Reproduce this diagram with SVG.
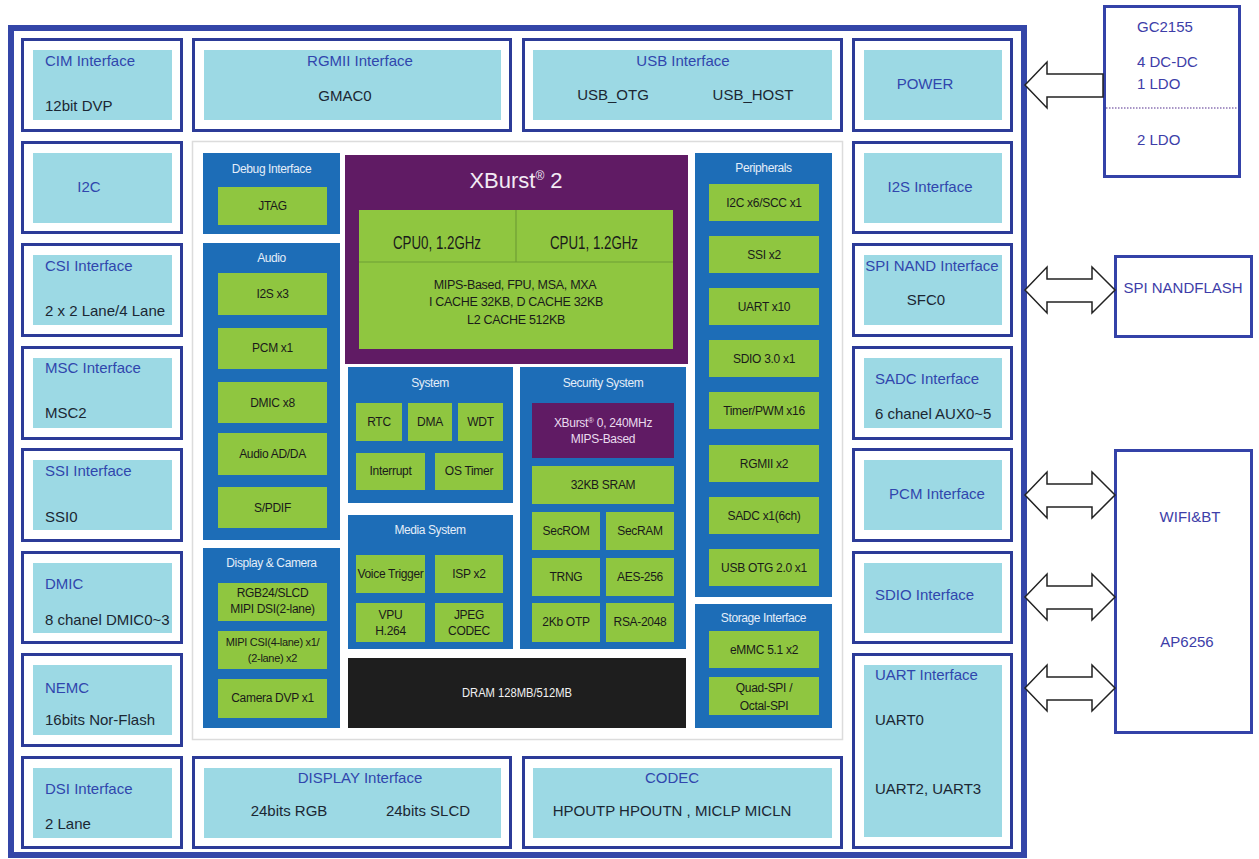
<svg xmlns="http://www.w3.org/2000/svg" width="1259" height="859" viewBox="0 0 1259 859">
<style>
.ob{fill:#fff;stroke:#2c3b98;stroke-width:3}
.ib{fill:#9cd9e4}
.ext{fill:#fff;stroke:#3442a8;stroke-width:3}
.t1{font-family:"Liberation Sans",Arial,sans-serif;font-size:15px;fill:#3046ad}
.t2{font-family:"Liberation Sans",Arial,sans-serif;font-size:15px;fill:#1b2733}
.tx{font-family:"Liberation Sans",Arial,sans-serif;font-size:15px;fill:#3d3da8}
.c{text-anchor:middle}
.blk{fill:#1d6db7}
.gr{fill:#8fc640}
.pu{fill:#601b64}
.ttl{font-family:"Liberation Sans",Arial,sans-serif;font-size:12px;fill:#e4eef9;letter-spacing:-0.4px;text-anchor:middle}
.gt{font-family:"Liberation Sans",Arial,sans-serif;font-size:12px;fill:#1a1a1a;letter-spacing:-0.3px;text-anchor:middle}
.arr{fill:#fff;stroke:#222;stroke-width:1.5;stroke-linejoin:miter}
</style>
<rect x="0" y="0" width="1259" height="859" fill="#fff"/>
<rect id="frame" x="11" y="28" width="1013" height="827" fill="#fff" stroke="#3446a8" stroke-width="6"/>
<rect id="core-panel" x="192.5" y="141.5" width="650" height="598" fill="#fff" stroke="#dcdcdc" stroke-width="1.5"/>

<!-- left column -->
<g id="cim"><rect class="ob" x="22.5" y="39.5" width="159" height="91"/><rect class="ib" x="33" y="50" width="139" height="70"/><text class="t1" x="45" y="66">CIM Interface</text><text class="t2" x="45" y="111">12bit DVP</text></g>
<g id="i2c"><rect class="ob" x="22.5" y="142.5" width="159" height="90"/><rect class="ib" x="33" y="153" width="139" height="70"/><text class="t1 c" x="89" y="192">I2C</text></g>
<g id="csi"><rect class="ob" x="22.5" y="244.5" width="159" height="91"/><rect class="ib" x="33" y="255" width="139" height="70"/><text class="t1" x="45" y="271">CSI Interface</text><text class="t2" x="45" y="316">2 x 2 Lane/4 Lane</text></g>
<g id="msc"><rect class="ob" x="22.5" y="347.5" width="159" height="91"/><rect class="ib" x="33" y="358" width="139" height="70"/><text class="t1" x="45" y="373">MSC Interface</text><text class="t2" x="45" y="418">MSC2</text></g>
<g id="ssi"><rect class="ob" x="22.5" y="449.5" width="159" height="91"/><rect class="ib" x="33" y="460" width="139" height="70"/><text class="t1" x="45" y="476">SSI Interface</text><text class="t2" x="45" y="522">SSI0</text></g>
<g id="dmic"><rect class="ob" x="22.5" y="552.5" width="159" height="90"/><rect class="ib" x="33" y="563" width="139" height="70"/><text class="t1" x="45" y="589">DMIC</text><text class="t2" x="45" y="625">8 chanel DMIC0~3</text></g>
<g id="nemc"><rect class="ob" x="22.5" y="654.5" width="159" height="91"/><rect class="ib" x="33" y="665" width="139" height="70"/><text class="t1" x="45" y="693">NEMC</text><text class="t2" x="45" y="725">16bits Nor-Flash</text></g>
<g id="dsi"><rect class="ob" x="22.5" y="757.5" width="159" height="90"/><rect class="ib" x="33" y="768" width="139" height="70"/><text class="t1" x="45" y="794">DSI Interface</text><text class="t2" x="45" y="829">2 Lane</text></g>

<!-- top row -->
<g id="rgmii"><rect class="ob" x="193.5" y="39.5" width="317" height="91"/><rect class="ib" x="204" y="50" width="297" height="70"/><text class="t1 c" x="360" y="66">RGMII Interface</text><text class="t2 c" x="345" y="101">GMAC0</text></g>
<g id="usb"><rect class="ob" x="523.5" y="39.5" width="318" height="91"/><rect class="ib" x="533" y="50" width="299" height="70"/><text class="t1 c" x="683" y="66">USB Interface</text><text class="t2 c" x="613" y="100">USB_OTG</text><text class="t2 c" x="753" y="100">USB_HOST</text></g>

<!-- bottom row -->
<g id="display"><rect class="ob" x="193.5" y="757.5" width="317" height="90"/><rect class="ib" x="204" y="768" width="297" height="70"/><text class="t1 c" x="360" y="783">DISPLAY Interface</text><text class="t2 c" x="289" y="816">24bits RGB</text><text class="t2 c" x="428" y="816">24bits SLCD</text></g>
<g id="codec"><rect class="ob" x="523.5" y="757.5" width="318" height="90"/><rect class="ib" x="533" y="768" width="299" height="70"/><text class="t1 c" x="672" y="783">CODEC</text><text class="t2 c" x="672" y="816">HPOUTP HPOUTN , MICLP MICLN</text></g>

<!-- right column -->
<g id="power"><rect class="ob" x="853.5" y="39.5" width="158" height="91"/><rect class="ib" x="864" y="50" width="138" height="70"/><text class="t1 c" x="925" y="89">POWER</text></g>
<g id="i2s"><rect class="ob" x="853.5" y="142.5" width="158" height="90"/><rect class="ib" x="864" y="153" width="138" height="70"/><text class="t1 c" x="930" y="192">I2S Interface</text></g>
<g id="spinand"><rect class="ob" x="853.5" y="244.5" width="158" height="91"/><rect class="ib" x="864" y="255" width="138" height="70"/><text class="t1 c" x="932" y="271">SPI NAND Interface</text><text class="t2 c" x="926" y="305">SFC0</text></g>
<g id="sadc"><rect class="ob" x="853.5" y="347.5" width="158" height="91"/><rect class="ib" x="864" y="358" width="138" height="70"/><text class="t1" x="875" y="384">SADC Interface</text><text class="t2" x="875" y="419">6 chanel AUX0~5</text></g>
<g id="pcm"><rect class="ob" x="853.5" y="449.5" width="158" height="91"/><rect class="ib" x="864" y="460" width="138" height="70"/><text class="t1 c" x="937" y="499">PCM Interface</text></g>
<g id="sdio"><rect class="ob" x="853.5" y="552.5" width="158" height="90"/><rect class="ib" x="864" y="563" width="138" height="70"/><text class="t1" x="875" y="600">SDIO Interface</text></g>
<g id="uart"><rect class="ob" x="853.5" y="654.5" width="158" height="193"/><rect class="ib" x="864" y="665" width="138" height="172"/><text class="t1" x="875" y="680">UART Interface</text><text class="t2" x="875" y="725">UART0</text><text class="t2" x="875" y="794">UART2, UART3</text></g>

<!-- external -->
<g id="gc2155"><rect class="ext" x="1104.5" y="6.5" width="135" height="170"/><line x1="1106" y1="108" x2="1238" y2="108" stroke="#8c74b4" stroke-width="1.5" stroke-dasharray="1.5,1.5"/><text class="tx" x="1137" y="32">GC2155</text><text class="tx" x="1137" y="67">4 DC-DC</text><text class="tx" x="1137" y="89">1 LDO</text><text class="tx" x="1137" y="145">2 LDO</text></g>
<g id="spinandflash"><rect class="ext" x="1115.5" y="256.5" width="136" height="80"/><text class="tx c" x="1183" y="293">SPI NANDFLASH</text></g>
<g id="wifi"><rect class="ext" x="1115.5" y="450.5" width="136" height="282"/><text class="tx c" x="1190" y="522">WIFI&amp;BT</text><text class="tx c" x="1187" y="647">AP6256</text></g>

<!-- core blocks -->
<g id="debug"><rect class="blk" x="203" y="153" width="137" height="81"/><text class="ttl" x="271.5" y="173">Debug Interface</text><rect class="gr" x="218" y="187" width="109" height="38"/><text class="gt" x="272.5" y="210">JTAG</text></g>
<g id="audio"><rect class="blk" x="203" y="243" width="137" height="297"/><text class="ttl" x="271.5" y="262">Audio</text>
<rect class="gr" x="218" y="273" width="109" height="42"/><text class="gt" x="272.5" y="298">I2S x3</text>
<rect class="gr" x="218" y="328" width="109" height="41"/><text class="gt" x="272.5" y="352">PCM x1</text>
<rect class="gr" x="218" y="382" width="109" height="41"/><text class="gt" x="272.5" y="407">DMIC x8</text>
<rect class="gr" x="218" y="433" width="109" height="42"/><text class="gt" x="272.5" y="458">Audio AD/DA</text>
<rect class="gr" x="218" y="487" width="109" height="41"/><text class="gt" x="272.5" y="512">S/PDIF</text></g>
<g id="display-camera"><rect class="blk" x="203" y="548" width="137" height="180"/><text class="ttl" x="271.5" y="567">Display &amp; Camera</text>
<rect class="gr" x="218" y="583" width="109" height="38"/><text class="gt" x="272.5" y="597">RGB24/SLCD</text><text class="gt" x="272.5" y="613">MIPI DSI(2-lane)</text>
<rect class="gr" x="218" y="631" width="109" height="38"/><text class="gt" x="272.5" y="646" style="font-size:11px">MIPI CSI(4-lane) x1/</text><text class="gt" x="272.5" y="662" style="font-size:11px">(2-lane) x2</text>
<rect class="gr" x="218" y="679" width="109" height="39"/><text class="gt" x="272.5" y="702">Camera DVP x1</text></g>

<g id="xburst2"><rect class="pu" x="345" y="155" width="343" height="209"/>
<text x="516" y="188" text-anchor="middle" font-family="Liberation Sans,Arial,sans-serif" font-size="22" fill="#f2eaf4">XBurst<tspan font-size="12" dy="-8">®</tspan><tspan dy="8"> 2</tspan></text>
<rect class="gr" x="359" y="210" width="314" height="139"/>
<line x1="359" y1="262" x2="673" y2="262" stroke="#6f9e35" stroke-width="1.2"/><line x1="516" y1="210" x2="516" y2="262" stroke="#6f9e35" stroke-width="1.2"/>
<text x="437" y="249" text-anchor="middle" font-family="Liberation Sans,Arial,sans-serif" font-size="18" fill="#1a1a1a" textLength="88" lengthAdjust="spacingAndGlyphs">CPU0, 1.2GHz</text>
<text x="594" y="249" text-anchor="middle" font-family="Liberation Sans,Arial,sans-serif" font-size="18" fill="#1a1a1a" textLength="88" lengthAdjust="spacingAndGlyphs">CPU1, 1.2GHz</text>
<text class="gt" x="515" y="289" style="font-size:12.5px">MIPS-Based, FPU, MSA, MXA</text>
<text class="gt" x="516" y="306" style="font-size:12.5px">I CACHE 32KB, D CACHE 32KB</text>
<text class="gt" x="516" y="324" style="font-size:12.5px">L2 CACHE 512KB</text></g>

<g id="system"><rect class="blk" x="348" y="367" width="165" height="136"/><text class="ttl" x="430" y="387">System</text>
<rect class="gr" x="356" y="403" width="46" height="38"/><text class="gt" x="379" y="426">RTC</text>
<rect class="gr" x="408" y="403" width="44" height="38"/><text class="gt" x="430" y="426">DMA</text>
<rect class="gr" x="458" y="403" width="45" height="38"/><text class="gt" x="480.5" y="426">WDT</text>
<rect class="gr" x="356" y="453" width="69" height="37"/><text class="gt" x="390.5" y="475">Interrupt</text>
<rect class="gr" x="435" y="453" width="68" height="37"/><text class="gt" x="469" y="475">OS Timer</text></g>

<g id="media"><rect class="blk" x="348" y="515" width="165" height="134"/><text class="ttl" x="430" y="534">Media System</text>
<rect class="gr" x="356" y="555" width="69" height="38"/><text class="gt" x="390.5" y="578">Voice Trigger</text>
<rect class="gr" x="435" y="555" width="68" height="38"/><text class="gt" x="469" y="578">ISP x2</text>
<rect class="gr" x="356" y="603" width="69" height="39"/><text class="gt" x="390.5" y="619">VPU</text><text class="gt" x="390.5" y="635">H.264</text>
<rect class="gr" x="435" y="603" width="68" height="39"/><text class="gt" x="469" y="619">JPEG</text><text class="gt" x="469" y="635">CODEC</text></g>

<g id="security"><rect class="blk" x="520" y="367" width="166" height="282"/><text class="ttl" x="603" y="387">Security System</text>
<rect class="pu" x="532" y="403" width="142" height="55"/><text class="gt" x="603" y="427" style="fill:#eadcef">XBurst<tspan font-size="8" dy="-4">®</tspan><tspan dy="4"> 0, 240MHz</tspan></text><text class="gt" x="603" y="443" style="fill:#eadcef">MIPS-Based</text>
<rect class="gr" x="532" y="466" width="142" height="38"/><text class="gt" x="603" y="489">32KB SRAM</text>
<rect class="gr" x="532" y="512" width="68" height="38"/><text class="gt" x="566" y="535">SecROM</text>
<rect class="gr" x="606" y="512" width="68" height="38"/><text class="gt" x="640" y="535">SecRAM</text>
<rect class="gr" x="532" y="558" width="68" height="38"/><text class="gt" x="566" y="581">TRNG</text>
<rect class="gr" x="606" y="558" width="68" height="38"/><text class="gt" x="640" y="581">AES-256</text>
<rect class="gr" x="532" y="603" width="68" height="39"/><text class="gt" x="566" y="626">2Kb OTP</text>
<rect class="gr" x="606" y="603" width="68" height="39"/><text class="gt" x="640" y="626">RSA-2048</text></g>

<g id="dram"><rect x="348" y="658" width="338" height="70" fill="#1e1e1e"/><text x="517" y="697" text-anchor="middle" font-family="Liberation Sans,Arial,sans-serif" font-size="12" fill="#f2f2f2" textLength="110" lengthAdjust="spacingAndGlyphs">DRAM 128MB/512MB</text></g>

<g id="peripherals"><rect class="blk" x="695" y="153" width="137" height="444"/><text class="ttl" x="763.5" y="172">Peripherals</text>
<rect class="gr" x="709" y="184" width="110" height="37"/><text class="gt" x="764" y="207">I2C x6/SCC x1</text>
<rect class="gr" x="709" y="236" width="110" height="37"/><text class="gt" x="764" y="259">SSI x2</text>
<rect class="gr" x="709" y="288" width="110" height="37"/><text class="gt" x="764" y="311">UART x10</text>
<rect class="gr" x="709" y="340" width="110" height="37"/><text class="gt" x="764" y="363">SDIO 3.0 x1</text>
<rect class="gr" x="709" y="392" width="110" height="37"/><text class="gt" x="764" y="415">Timer/PWM x16</text>
<rect class="gr" x="709" y="445" width="110" height="37"/><text class="gt" x="764" y="468">RGMII x2</text>
<rect class="gr" x="709" y="497" width="110" height="37"/><text class="gt" x="764" y="520">SADC x1(6ch)</text>
<rect class="gr" x="709" y="549" width="110" height="37"/><text class="gt" x="764" y="572">USB OTG 2.0 x1</text></g>
<g id="storage"><rect class="blk" x="695" y="604" width="137" height="124"/><text class="ttl" x="763.5" y="622">Storage Interface</text>
<rect class="gr" x="709" y="631" width="110" height="37"/><text class="gt" x="764" y="654">eMMC 5.1 x2</text>
<rect class="gr" x="709" y="677" width="110" height="38"/><text class="gt" x="764" y="692">Quad-SPI /</text><text class="gt" x="764" y="710">Octal-SPI</text></g>

<g id="connectors">
<polygon class="arr" points="1025,85 1047,62 1047,74 1103,74 1103,97 1047,97 1047,108"/>
<polygon class="arr" points="1025,290 1047,267 1047,279 1092,279 1092,267 1115,290 1092,313 1092,302 1047,302 1047,313"/>
<polygon class="arr" points="1025,495 1047,472 1047,484 1092,484 1092,472 1115,495 1092,518 1092,507 1047,507 1047,518"/>
<polygon class="arr" points="1025,597 1047,574 1047,586 1092,586 1092,574 1115,597 1092,620 1092,609 1047,609 1047,620"/>
<polygon class="arr" points="1025,688 1047,665 1047,677 1092,677 1092,665 1115,688 1092,711 1092,700 1047,700 1047,711"/>
</g>
</svg>
